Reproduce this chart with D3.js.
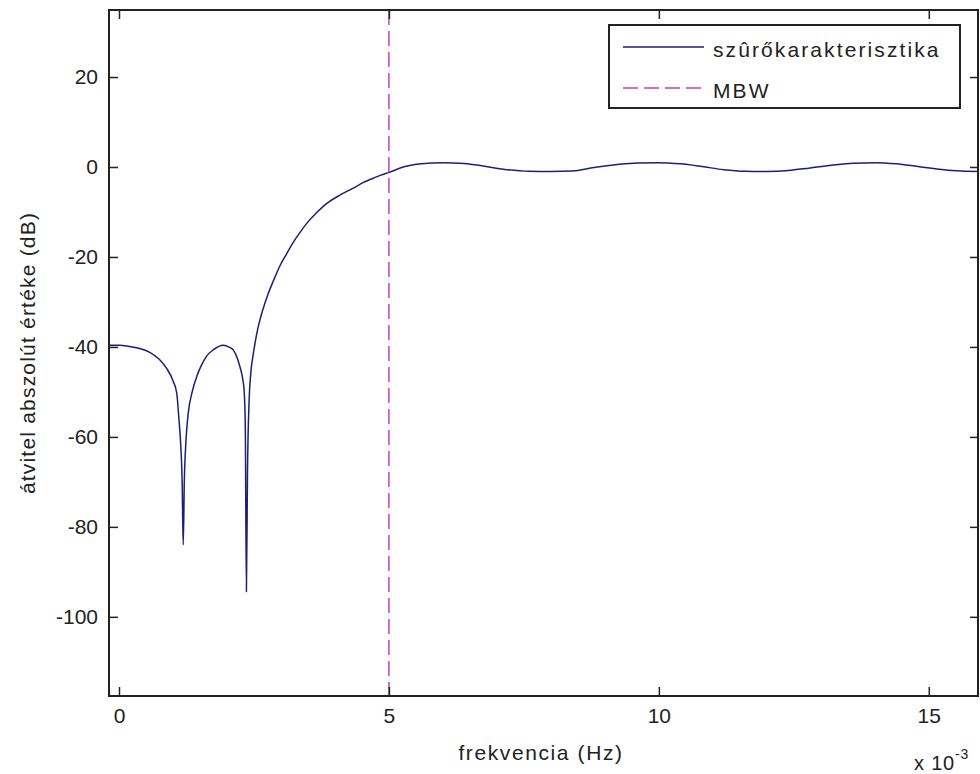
<!DOCTYPE html>
<html>
<head>
<meta charset="utf-8">
<script src="https://cdn.jsdelivr.net/npm/d3@7"></script>
<style>
  body { margin: 0; background: #fff; }
  svg { display: block; }
  text { font-family: "Liberation Sans", Arial, sans-serif; fill: #222; }
</style>
</head>
<body>
<svg id="chart" width="980" height="774"></svg>
<script>
// frequency in units of 1e-3 Hz, magnitude in dB
const freqs = [-0.19, 0.0, 0.2, 0.4, 0.57, 0.75, 0.88, 1.0, 1.07, 1.11, 1.14, 1.17, 1.19, 1.21, 1.24, 1.28,
  1.36, 1.44, 1.53, 1.62, 1.75, 1.93, 2.05, 2.12, 2.2, 2.24, 2.29, 2.32, 2.34, 2.36, 2.38, 2.41, 2.44,
  2.49, 2.57, 2.67, 2.76, 2.86, 2.98, 3.1, 3.2, 3.35, 3.5, 3.65, 3.85, 4.1, 4.34, 4.5, 4.71, 4.85, 5.0,
  5.3, 5.6, 6.0, 6.4, 6.8, 7.2, 7.6, 8.0, 8.4, 8.8, 9.2, 9.6, 10.0, 10.4, 10.8, 11.2, 11.6, 12.0,
  12.4, 12.8, 13.2, 13.6, 14.0, 14.4, 14.8, 15.2, 15.6, 15.95];
const gainDb = [-39.6, -39.6, -39.9, -40.4, -41.2, -42.8, -44.7, -47.5, -50.3, -56, -61, -70, -84, -70, -61, -55,
  -49.8, -46.6, -44, -42.1, -40.6, -39.6, -40.1, -40.7, -42.8, -44.4, -47, -50, -58, -94.4, -68, -52, -46,
  -41.4, -36, -31.5, -28.3, -25.3, -22, -19.4, -17.3, -14.6, -12.2, -10.3, -8.1, -6.2, -4.7, -3.6, -2.5, -1.8, -1.2,
  0.1, 0.7, 0.95, 0.8, 0.1, -0.6, -0.95, -1.0, -0.9, -0.1, 0.5, 0.9, 0.95, 0.7, 0.1, -0.6, -0.95, -1.0,
  -0.8, -0.2, 0.4, 0.85, 0.95, 0.7, 0.1, -0.5, -0.9, -1.0];
const mbw = 5.0;
const xTicks = [0, 5, 10, 15];
const yTicks = [20, 0, -20, -40, -60, -80, -100];
const seriesNames = ["szûrőkarakterisztika", "MBW"];

const svg = d3.select("#chart");
const pLeft = 109, pRight = 979, pTop = 10, pBottom = 696;

const x = d3.scaleLinear().domain([-0.185, 15.93]).range([pLeft, pRight]);
const y = d3.scaleLinear().domain([-117.6, 34.9]).range([pBottom, pTop]);

svg.append("defs").append("clipPath").attr("id", "plotclip")
  .append("rect").attr("x", pLeft).attr("y", pTop).attr("width", pRight - pLeft).attr("height", pBottom - pTop);

const pts = freqs.map((f, i) => [f, gainDb[i]]);
const line = d3.line().x(d => x(d[0])).y(d => y(d[1])).curve(d3.curveMonotoneX);

const plot = svg.append("g").attr("clip-path", "url(#plotclip)");
plot.append("path").datum(pts)
  .attr("d", line)
  .attr("fill", "none")
  .attr("stroke", "#1e1e78")
  .attr("stroke-width", 1.5)
  .attr("stroke-linejoin", "round");

plot.append("line")
  .attr("x1", x(mbw)).attr("x2", x(mbw))
  .attr("y1", pTop).attr("y2", pBottom)
  .attr("stroke", "#c040c0")
  .attr("stroke-width", 1.5)
  .attr("stroke-dasharray", "15,6");

// axes, ticks on all four sides pointing inward
const tk = 9;
const fontFam = "Liberation Sans, Arial, sans-serif";
svg.append("g").attr("transform", `translate(0,${pBottom})`)
  .call(d3.axisBottom(x).tickValues(xTicks).tickSizeInner(-tk).tickSizeOuter(0).tickFormat(d => String(d)).tickPadding(12))
  .call(g => g.select(".domain").remove())
  .call(g => g.selectAll("text").attr("font-size", 21).attr("fill", "#222").attr("font-family", fontFam));
svg.append("g").attr("transform", `translate(0,${pTop})`)
  .call(d3.axisTop(x).tickValues(xTicks).tickSizeInner(-tk).tickSizeOuter(0).tickFormat(""))
  .call(g => g.select(".domain").remove());
svg.append("g").attr("transform", `translate(${pLeft},0)`)
  .call(d3.axisLeft(y).tickValues(yTicks).tickSizeInner(-tk).tickSizeOuter(0).tickFormat(d => String(d)).tickPadding(11))
  .call(g => g.select(".domain").remove())
  .call(g => g.selectAll("text").attr("font-size", 21).attr("fill", "#222").attr("font-family", fontFam));
svg.append("g").attr("transform", `translate(${pRight},0)`)
  .call(d3.axisRight(y).tickValues(yTicks).tickSizeInner(-tk).tickSizeOuter(0).tickFormat(""))
  .call(g => g.select(".domain").remove());
svg.selectAll(".tick line").attr("stroke", "#222").attr("stroke-width", 1.5);

svg.append("rect")
  .attr("x", pLeft).attr("y", pTop).attr("width", pRight - pLeft - 1).attr("height", pBottom - pTop)
  .attr("fill", "none").attr("stroke", "#222").attr("stroke-width", 2);

// axis labels
svg.append("text")
  .attr("x", 541).attr("y", 760)
  .attr("text-anchor", "middle").attr("font-size", 21).attr("letter-spacing", 1.6)
  .text("frekvencia (Hz)");

svg.append("text")
  .attr("transform", `translate(35,${(pTop + pBottom) / 2}) rotate(-90)`)
  .attr("text-anchor", "middle").attr("font-size", 21).attr("letter-spacing", 1.2)
  .text("átvitel abszolút értéke (dB)");

const mult = svg.append("text").attr("x", 914).attr("y", 770).attr("font-size", 20).attr("letter-spacing", 0.8);
mult.append("tspan").text("x 10");
mult.append("tspan").attr("dy", -11).attr("font-size", 14).text("-3");

// legend
const lg = svg.append("g");
lg.append("rect").attr("x", 609).attr("y", 25).attr("width", 351).attr("height", 83)
  .attr("fill", "#fff").attr("stroke", "#222").attr("stroke-width", 2);
const legendRows = [
  { name: seriesNames[0], color: "#1e1e78", dash: null, yy: 47 },
  { name: seriesNames[1], color: "#c040c0", dash: "15,6", yy: 88 }
];
legendRows.forEach(r => {
  lg.append("line").attr("x1", 623).attr("x2", 704).attr("y1", r.yy).attr("y2", r.yy)
    .attr("stroke", r.color).attr("stroke-width", 1.5).attr("stroke-dasharray", r.dash);
  lg.append("text").attr("x", 713).attr("y", r.yy + 10)
    .attr("font-size", 21).attr("letter-spacing", 2.1).text(r.name);
});
</script>
</body>
</html>
